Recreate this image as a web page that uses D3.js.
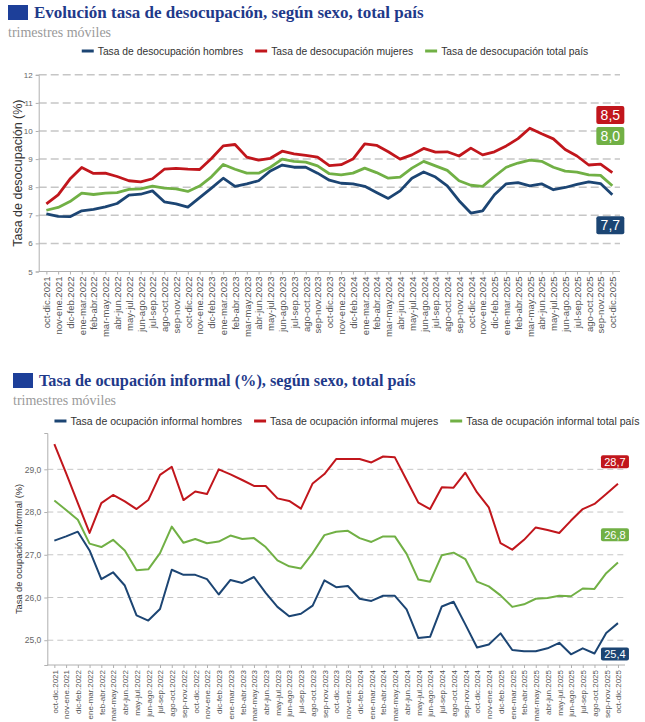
<!DOCTYPE html>
<html>
<head>
<meta charset="utf-8">
<script src="https://cdn.jsdelivr.net/npm/d3@7"></script>
<style>
    body { margin: 0; background: #fff; }
    svg { display: block; font-family: "Liberation Sans", Arial, sans-serif; }
</style>
</head>
<body>
<div id="chart"></div>
<script>

// trimestres moviles (etiquetas del eje x)
const periodos = [
    "oct-dic.2021", "nov-ene.2021", "dic-feb.2022", "ene-mar.2022", "feb-abr.2022", "mar-may.2022",
    "abr-jun.2022", "may-jul.2022", "jun-ago.2022", "jul-sep.2022", "ago-oct.2022", "sep-nov.2022",
    "oct-dic.2022", "nov-ene.2022", "dic-feb.2023", "ene-mar.2023", "feb-abr.2023", "mar-may.2023",
    "abr-jun.2023", "may-jul.2023", "jun-ago.2023", "jul-sep.2023", "ago-oct.2023", "sep-nov.2023",
    "oct-dic.2023", "nov-ene.2023", "dic-feb.2024", "ene-mar.2024", "feb-abr.2024", "mar-may.2024",
    "abr-jun.2024", "may-jul.2024", "jun-ago.2024", "jul-sep.2024", "ago-oct.2024", "sep-nov.2024",
    "oct-dic.2024", "nov-ene.2024", "dic-feb.2025", "ene-mar.2025", "feb-abr.2025", "mar-may.2025",
    "abr-jun.2025", "may-jul.2025", "jun-ago.2025", "jul-sep.2025", "ago-oct.2025", "sep-nov.2025",
    "oct-dic.2025"
];

// Tasa de desocupacion (%)
const desocHombres = [7.05, 6.96, 6.95, 7.16, 7.21, 7.30, 7.42, 7.72, 7.75, 7.87, 7.48, 7.41, 7.29, 7.63, 7.97, 8.32, 8.03, 8.12, 8.23, 8.58, 8.79, 8.71, 8.71, 8.50, 8.25, 8.14, 8.12, 8.03, 7.81, 7.60, 7.87, 8.32, 8.54, 8.36, 8.05, 7.52, 7.08, 7.16, 7.73, 8.12, 8.16, 8.05, 8.12, 7.91, 7.99, 8.10, 8.19, 8.13, 7.73];
const desocMujeres = [7.41, 7.73, 8.29, 8.70, 8.49, 8.50, 8.38, 8.23, 8.19, 8.30, 8.64, 8.67, 8.64, 8.63, 9.02, 9.47, 9.52, 9.07, 8.96, 9.03, 9.28, 9.19, 9.13, 9.07, 8.77, 8.80, 9.00, 9.54, 9.49, 9.26, 9.00, 9.15, 9.38, 9.25, 9.26, 9.11, 9.39, 9.15, 9.26, 9.47, 9.73, 10.10, 9.90, 9.72, 9.34, 9.11, 8.79, 8.82, 8.52];
const desocTotal = [7.18, 7.28, 7.49, 7.79, 7.74, 7.79, 7.81, 7.92, 7.94, 8.04, 7.97, 7.94, 7.85, 8.04, 8.37, 8.81, 8.64, 8.50, 8.50, 8.71, 9.00, 8.92, 8.89, 8.76, 8.48, 8.44, 8.50, 8.68, 8.52, 8.32, 8.36, 8.68, 8.92, 8.76, 8.60, 8.23, 8.07, 8.03, 8.38, 8.71, 8.86, 8.96, 8.92, 8.71, 8.57, 8.54, 8.44, 8.42, 8.05];
const desocTicks = [5, 6, 7, 8, 9, 10, 11, 12];
const desocEtiquetas = ["7,7", "8,5", "8,0"];      // hombres, mujeres, total
const desocEtiquetaY = [6.65, 10.57, 9.82];        // altura de cada etiqueta (en %)

// Tasa de ocupacion informal (%)
const infHombres = [27.33, 27.43, 27.54, 27.10, 26.43, 26.59, 26.28, 25.58, 25.46, 25.73, 26.65, 26.53, 26.53, 26.43, 26.07, 26.41, 26.34, 26.48, 26.11, 25.78, 25.56, 25.62, 25.81, 26.40, 26.24, 26.27, 25.97, 25.92, 26.04, 26.04, 25.72, 25.05, 25.08, 25.79, 25.90, 25.37, 24.83, 24.90, 25.16, 24.77, 24.74, 24.74, 24.81, 24.94, 24.67, 24.81, 24.69, 25.17, 25.40];
const infMujeres = [29.59, 28.91, 28.21, 27.51, 28.21, 28.40, 28.25, 28.07, 28.28, 28.87, 29.06, 28.28, 28.48, 28.42, 29.00, 28.88, 28.75, 28.61, 28.61, 28.32, 28.26, 28.08, 28.67, 28.89, 29.24, 29.24, 29.24, 29.16, 29.30, 29.28, 28.75, 28.22, 28.07, 28.58, 28.57, 28.92, 28.46, 28.11, 27.27, 27.12, 27.35, 27.64, 27.58, 27.51, 27.80, 28.07, 28.19, 28.42, 28.66];
const infTotal = [28.27, 28.05, 27.82, 27.26, 27.18, 27.35, 27.10, 26.64, 26.66, 27.04, 27.66, 27.28, 27.37, 27.27, 27.31, 27.45, 27.37, 27.39, 27.18, 26.87, 26.73, 26.68, 27.04, 27.46, 27.54, 27.56, 27.39, 27.30, 27.43, 27.43, 27.02, 26.42, 26.37, 26.99, 27.05, 26.90, 26.37, 26.26, 26.05, 25.78, 25.84, 25.97, 25.99, 26.04, 26.03, 26.21, 26.20, 26.57, 26.82];
const infTicks = [25, 26, 27, 28, 29];
const infEtiquetas = ["25,4", "28,7", "26,8"];
const infEtiquetaY = [24.68, 29.18, 27.47];

const colores = ["#1c4573", "#c1161c", "#71b045"]; // hombres, mujeres, total

const coma = d3.formatLocale({decimal: ",", thousands: ".", grouping: [3], currency: ["$", ""]});


class LineChart {

    constructor(opts) {
        this.svg = opts.svg;
        this.o = opts;
        this.draw();
    }

    draw() {
        let o = this.o;
        let g = this.svg.append("g").attr("class", "chart-g");

        // titulo
        g.append("rect")
            .attr("x", o.title.x - 26)
            .attr("y", o.title.y - 13)
            .attr("width", 20)
            .attr("height", 15)
            .attr("fill", "#1d3f99");

        g.append("text")
            .attr("x", o.title.x)
            .attr("y", o.title.y)
            .attr("font-family", "'Liberation Serif', 'DejaVu Serif', serif")
            .attr("font-weight", "bold")
            .attr("font-size", o.title.size)
            .attr("fill", "#1f3a8a")
            .text(o.title.text);

        g.append("text")
            .attr("x", o.title.x - 26)
            .attr("y", o.title.y + 19)
            .attr("font-family", "'Liberation Serif', serif")
            .attr("font-size", 14)
            .attr("fill", "#9a9a9a")
            .text("trimestres móviles");

        // escalas
        this.x = d3.scalePoint()
            .domain(periodos)
            .range([o.left, o.right])
            .padding(o.padding);

        this.y = d3.scaleLinear()
            .domain(o.yDomain)
            .range([o.bottom, o.top]);

        // grilla
        g.append("g")
            .selectAll("line")
            .data(o.ticks.filter(d => d > o.yDomain[0]))
            .enter().append("line")
            .attr("x1", o.left)
            .attr("x2", o.right)
            .attr("y1", d => this.y(d))
            .attr("y2", d => this.y(d))
            .attr("stroke", "#c6c6c6")
            .attr("stroke-width", o.gridWidth)
            .attr("stroke-dasharray", o.dash);

        // eje y
        let yAxis = g.append("g")
            .attr("transform", `translate(${o.left},0)`)
            .call(d3.axisLeft(this.y).tickValues(o.ticks).tickSize(3).tickPadding(3).tickFormat(o.fmt));
        yAxis.select(".domain").attr("stroke", "#b0b0b0");
        yAxis.selectAll(".tick line").attr("stroke", "#b0b0b0");
        yAxis.selectAll("text").attr("fill", "#666").attr("font-size", o.yFont);

        g.append("text")
            .attr("transform", `translate(${o.yTitleX},${(o.top + o.bottom) / 2}) rotate(-90)`)
            .attr("text-anchor", "middle")
            .attr("font-size", o.yTitleFont)
            .attr("fill", "#333")
            .text(o.yTitle);

        // eje x
        let xAxis = g.append("g")
            .attr("transform", `translate(0,${o.bottom})`)
            .call(d3.axisBottom(this.x).tickSize(3).tickSizeOuter(0));
        xAxis.select(".domain").attr("stroke", "#b0b0b0").attr("d", `M${o.left},0H${o.right}`);
        xAxis.selectAll(".tick line").attr("stroke", "#b0b0b0");
        xAxis.selectAll("text")
            .attr("fill", "#555")
            .attr("font-size", o.xFont)
            .attr("text-anchor", "end")
            .attr("transform", "rotate(-90)")
            .attr("x", -5)
            .attr("y", 0)
            .attr("dy", "0.35em");

        // lineas
        let line = d3.line()
            .x((d, i) => this.x(periodos[i]))
            .y(d => this.y(d));

        g.append("g")
            .selectAll("path")
            .data(o.series)
            .enter().append("path")
            .attr("d", d => line(d.values))
            .attr("fill", "none")
            .attr("stroke", d => d.color)
            .attr("stroke-width", o.lineWidth)
            .attr("stroke-linejoin", "round");

        // etiquetas finales
        let lastX = this.x(periodos[periodos.length - 1]);
        let lab = g.append("g")
            .selectAll("g")
            .data(o.series)
            .enter().append("g")
            .attr("transform", d => `translate(${lastX + o.boxDx},${this.y(d.labelY)})`);

        lab.append("rect")
            .attr("x", -o.boxW / 2)
            .attr("y", -o.boxH / 2)
            .attr("width", o.boxW)
            .attr("height", o.boxH)
            .attr("rx", 2)
            .attr("fill", d => d.color);

        lab.append("text")
            .attr("text-anchor", "middle")
            .attr("dy", "0.36em")
            .attr("fill", "#fff")
            .attr("font-size", o.boxFont)
            .text(d => d.label);

        // leyenda
        let leg = g.append("g");
        let pos = 0;
        o.series.forEach(s => {
            let item = leg.append("g").attr("transform", `translate(${pos},0)`);
            item.append("line")
                .attr("x1", 0).attr("x2", 12)
                .attr("y1", 0).attr("y2", 0)
                .attr("stroke", s.color)
                .attr("stroke-width", 3);
            let t = item.append("text")
                .attr("x", 16)
                .attr("dy", "0.35em")
                .attr("font-size", o.legendFont)
                .attr("fill", "#333")
                .text(s.name);
            pos += 16 + t.node().getComputedTextLength() + 12;
        });
        pos -= 12;
        leg.attr("transform", `translate(${o.legendCx - pos / 2},${o.legendY})`);
    }
}


let svg = d3.select("#chart").append("svg")
    .attr("width", 645)
    .attr("height", 722);

new LineChart({
    svg: svg,
    title: {x: 34, y: 18, size: 17, text: "Evolución tasa de desocupación, según sexo, total país"},
    legendY: 51, legendCx: 335, legendFont: 10.3,
    left: 38.7, right: 620, padding: 0.65,
    top: 74.8, bottom: 271.5,
    yDomain: [5, 12], ticks: desocTicks, fmt: d3.format("d"),
    yFont: 8, xFont: 9.5,
    yTitle: "Tasa de desocupación (%)", yTitleX: 22, yTitleFont: 12.5,
    gridWidth: 1.5, dash: "8,4", lineWidth: 2.8,
    boxDx: -2, boxW: 28, boxH: 18, boxFont: 14,
    series: [
        {name: "Tasa de desocupación hombres", values: desocHombres, color: colores[0], label: desocEtiquetas[0], labelY: desocEtiquetaY[0]},
        {name: "Tasa de desocupación mujeres", values: desocMujeres, color: colores[1], label: desocEtiquetas[1], labelY: desocEtiquetaY[1]},
        {name: "Tasa de desocupación total país", values: desocTotal, color: colores[2], label: desocEtiquetas[2], labelY: desocEtiquetaY[2]}
    ]
});

new LineChart({
    svg: svg,
    title: {x: 39, y: 386, size: 16.3, text: "Tasa de ocupación informal (%), según sexo, total país"},
    legendY: 421, legendCx: 347, legendFont: 10.5,
    left: 47.3, right: 625, padding: 0.6,
    top: 433, bottom: 665,
    yDomain: [24.42, 29.85], ticks: infTicks, fmt: coma.format(".1f"),
    yFont: 8.5, xFont: 8,
    yTitle: "Tasa de ocupación informal (%)", yTitleX: 22, yTitleFont: 9.3,
    gridWidth: 1, dash: "6,4", lineWidth: 2,
    boxDx: -3, boxW: 28, boxH: 13, boxFont: 11,
    series: [
        {name: "Tasa de ocupación informal hombres", values: infHombres, color: colores[0], label: infEtiquetas[0], labelY: infEtiquetaY[0]},
        {name: "Tasa de ocupación informal mujeres", values: infMujeres, color: colores[1], label: infEtiquetas[1], labelY: infEtiquetaY[1]},
        {name: "Tasa de ocupación informal total país", values: infTotal, color: colores[2], label: infEtiquetas[2], labelY: infEtiquetaY[2]}
    ]
});

</script>
</body>
</html>
